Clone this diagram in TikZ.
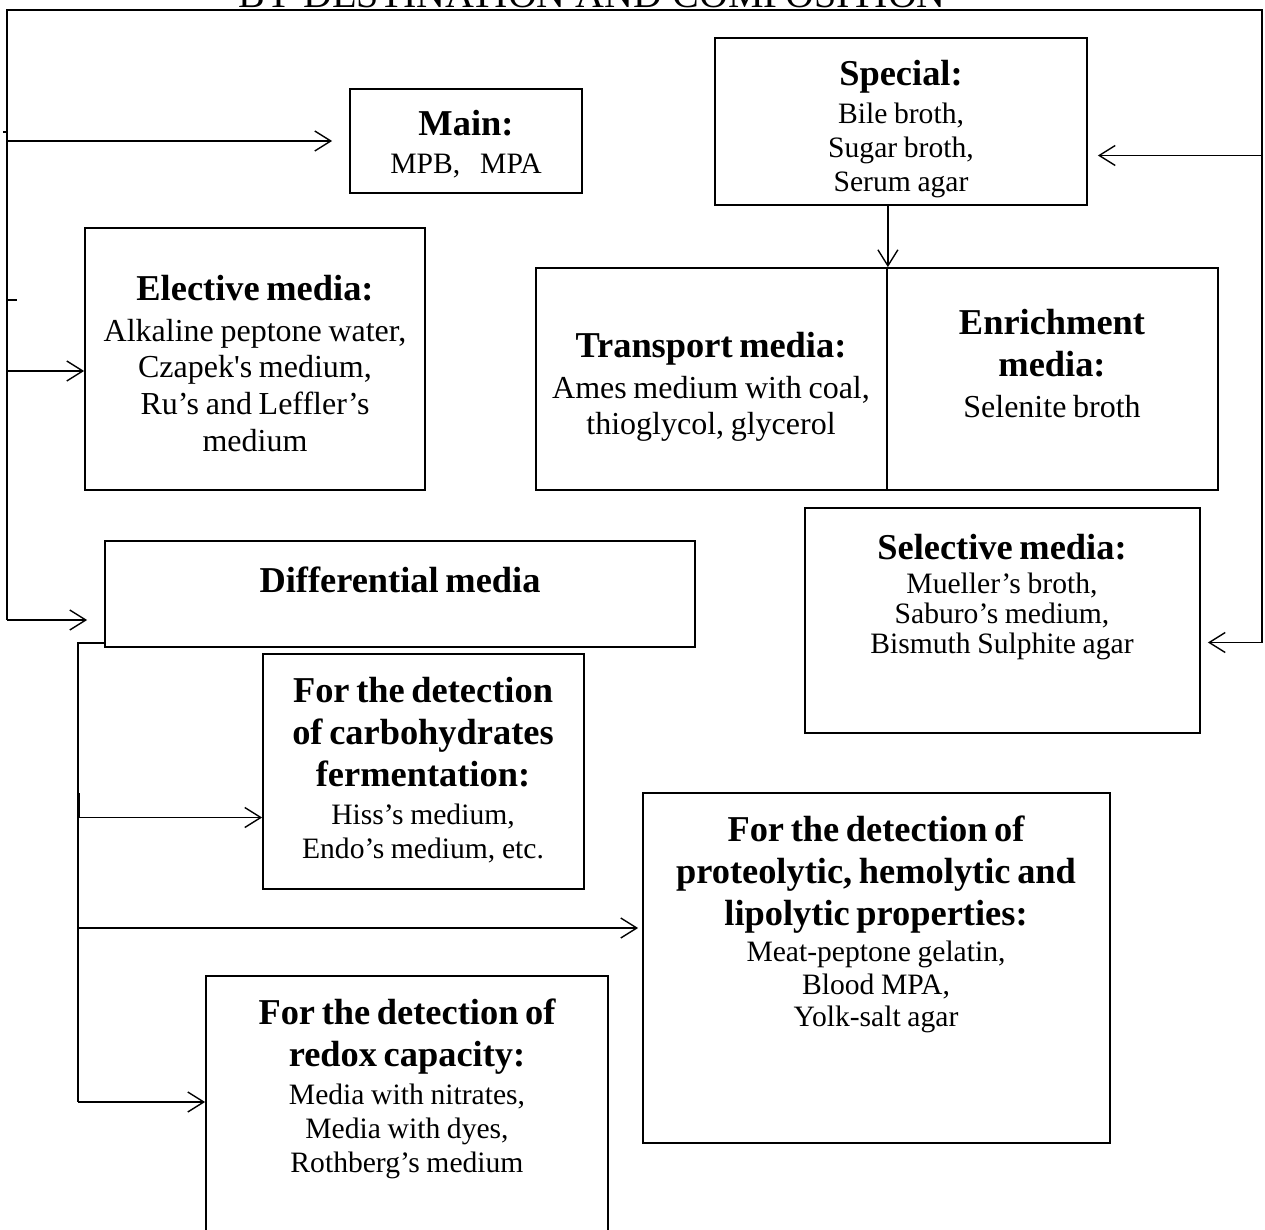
\documentclass[tikz,border=0pt]{standalone}
\usepackage{fontspec}
\newfontfamily\tnr{Liberation Serif}
\usetikzlibrary{arrows.meta, fit}

\newcommand{\mhead}[1]{{\fontsize{18.2}{21}\selectfont\bfseries #1\par}}
\newcommand{\mbody}[2][17]{{\vspace{2pt}\fontsize{14.8}{#1}\selectfont #2\par}}
\newcommand{\mbodyl}[1]{{\vspace{2pt}\fontsize{16}{18.3}\selectfont #1\par}}

\tikzset{
  mbox/.style={draw, line width=0.9pt, inner sep=0pt},
  mtext/.style={font=\tnr, align=center, inner sep=0pt, anchor=north, text width=#1},
  mtext/.default=150pt,
  mline/.style={line width=0.7pt},
  marrow/.style={line width=0.7pt, -{Straight Barb[length=8pt,width=10pt]}},
}

\begin{document}
\begin{tikzpicture}[x=0.5pt, y=-0.5pt]
\useasboundingbox (0,0) rectangle (1265,1230);
\clip (0,0) rectangle (1265,1230);

% title, cut by the page edge
\node[font=\tnr\fontsize{20}{24}\selectfont, anchor=base, inner sep=0pt] (title) at (592,8) {BY DESTINATION AND COMPOSITION};

% boxes
\node[mbox, fit={(350,89) (582,193)}] (main) {};
\node[mbox, fit={(715,38) (1087,205)}] (special) {};
\node[mbox, fit={(85,228) (425,490)}] (elect) {};
\node[mbox, fit={(536,268) (887,490)}] (transp) {};
\node[mbox, fit={(887,268) (1218,490)}] (enrich) {};
\node[mbox, fit={(105,541) (695,647)}] (diff) {};
\node[mbox, fit={(805,508) (1200,733)}] (select) {};
\node[mbox, fit={(263,654) (584,889)}] (carb) {};
\node[mbox, fit={(643,793) (1110,1143)}] (prot) {};
\node[mbox, fit={(206,976) (608,1262)}] (redox) {};

% texts
\node[mtext=116pt] (main-t) at (466,110) {\mhead{Main:}\mbody{MPB,~~~MPA}};
\node[mtext=186pt] (special-t) at (901,60) {\mhead{Special:}\mbody{Bile broth,\\Sugar broth,\\Serum agar}};
\node[mtext=170pt] (elect-t) at (255,275) {\mhead{Elective media:}\mbodyl{Alkaline peptone water,\\Czapek's medium,\\Ru’s and Leffler’s\\medium}};
\node[mtext=175pt] (transp-t) at (711,332) {\mhead{Transport media:}\mbodyl{Ames medium with coal,\\thioglycol, glycerol}};
\node[mtext=165pt] (enrich-t) at (1052,309) {\mhead{Enrichment\\media:}\mbodyl{Selenite broth}};
\node[mtext=295pt] (diff-t) at (400,566) {\mhead{Differential media}};
\node[mtext=197pt] (select-t) at (1002,534) {\mhead{Selective media:}\mbody[15]{Mueller’s broth,\\Saburo’s medium,\\Bismuth Sulphite agar}};
\node[mtext=160pt] (carb-t) at (423,677) {\mhead{For the detection\\of carbohydrates\\fermentation:}\mbody{Hiss’s medium,\\Endo’s medium, etc.}};
\node[mtext=233pt] (prot-t) at (876,815) {\mhead{For the detection of\\proteolytic, hemolytic and\\lipolytic properties:}\mbody[16.3]{Meat-peptone gelatin,\\Blood MPA,\\Yolk-salt agar}};
\node[mtext=201pt] (redox-t) at (407,998) {\mhead{For the detection of\\redox capacity:}\mbody{Media with nitrates,\\Media with dyes,\\Rothberg’s medium}};

% outer frame lines
\coordinate (lt) at (7,10);
\coordinate (rt) at (1262,10);
\coordinate (ein) at ([yshift=-6pt]elect.west);
\coordinate (din) at ([yshift=-13pt]diff.west);
\coordinate (sin) at ([yshift=-17pt]special.east);
\coordinate (selin) at ([yshift=-11pt]select.east);
\draw[mline] (lt |- din) -- (lt) -- (rt) -- (rt |- selin);
\draw[mline] (7,132) -- (3,132);
\draw[mline] (7,300) -- (17,300);
\draw[line width=1.4pt] (7,300) -- (7,371);
\draw[marrow, shorten >=8.5pt] (lt |- main.west) -- (main.west);
\draw[marrow] (lt |- ein) -- (ein);
\draw[marrow, shorten >=8.5pt] (lt |- din) -- (din);
\draw[marrow, shorten >=5pt] (rt |- sin) -- (sin);
\draw[marrow, shorten >=3.5pt] (rt |- selin) -- (selin);
\draw[marrow] (special.south -| transp.north east) -- (transp.north east);

% differential branches
\coordinate (dout) at ([yshift=2.5pt]diff.south west);
\coordinate (cin) at ([yshift=-23pt]carb.west);
\coordinate (pin) at ([yshift=20pt]prot.west);
\coordinate (rin) at ([yshift=8.5pt]redox.west);
\draw[mline] (dout) -- ++(-26,0) coordinate (dk) -- (dk |- rin);
\draw[line width=1.2pt] (79,793) -- (79,817);
\draw[marrow] (dk |- cin) -- (cin);
\draw[marrow, shorten >=2pt] (dk |- pin) -- (pin);
\draw[marrow] (dk |- rin) -- (rin);
\end{tikzpicture}
\end{document}
